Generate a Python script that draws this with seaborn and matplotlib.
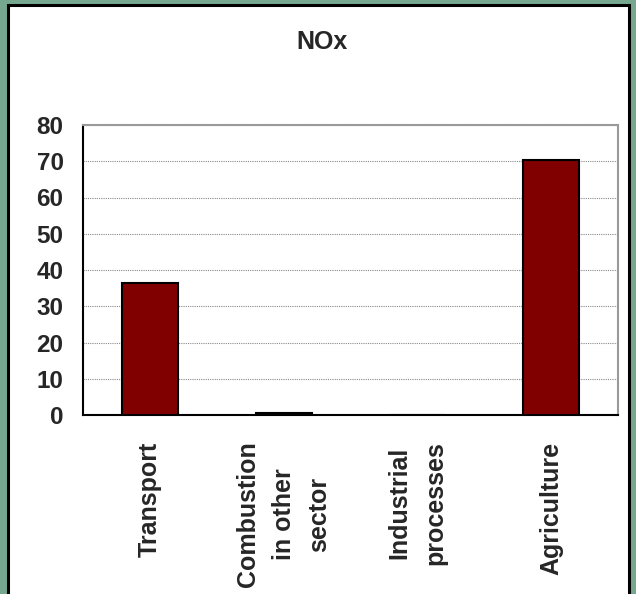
import numpy as np
import matplotlib
matplotlib.use("Agg")
import matplotlib.pyplot as plt
from matplotlib.patches import Rectangle
import seaborn as sns

# data
categories = ["Transport", "Combustion\nin other\nsector", "Industrial\nprocesses", "Agriculture"]
values = [36.5, 0.5, 0.0, 70.4]
yticks = [0, 10, 20, 30, 40, 50, 60, 70, 80]
title = "NOx"

sns.set_style("white")
plt.rcParams["font.family"] = ["Liberation Sans", "DejaVu Sans"]
plt.rcParams["font.weight"] = "bold"

fig = plt.figure(figsize=(6.36, 5.94), dpi=100, facecolor="#76a88f")

# white panel with black frame
panel = Rectangle((7.5 / 636, -0.05), (629 - 7.5) / 636, 1.05 - 5 / 594,
                  transform=fig.transFigure, facecolor="white",
                  edgecolor="black", linewidth=2.2, zorder=0)
fig.add_artist(panel)

ax = fig.add_axes([83 / 636, (594 - 415) / 594, 535 / 636, 290 / 594])
ax.set_facecolor("none")

sns.barplot(x=categories, y=values, color="#800000", saturation=1,
            edgecolor="black", linewidth=1.5, width=0.42, ax=ax, zorder=3)

ax.set_xlim(-0.5, 3.5)
ax.set_ylim(0, 80)
ax.set_yticks(yticks)
ax.set_yticklabels([str(v) for v in yticks], fontsize=17.5, fontweight="bold")

ax.set_xticks(range(len(categories)))
ax.set_xticklabels(categories, rotation=90, fontsize=18, fontweight="bold",
                   va="top", ha="center", multialignment="center",
                   linespacing=1.6)
ax.set_xticks(np.arange(-0.5, len(categories), 1), minor=True)
ax.tick_params(axis="x", which="major", length=0, pad=19)
ax.tick_params(axis="x", which="minor", length=6, width=1.5, direction="out", color="black")
ax.tick_params(axis="y", length=6, width=1.5, direction="out", color="black", pad=8)
ax.set_xlabel("")
ax.set_ylabel("")

ax.yaxis.grid(True, linestyle=(0, (1, 1)), color="#8a8a8a", linewidth=0.8, zorder=0)
ax.set_axisbelow(True)

for side in ["left", "bottom"]:
    ax.spines[side].set_color("black")
    ax.spines[side].set_linewidth(1.5)
for side in ["top", "right"]:
    ax.spines[side].set_visible(True)
    ax.spines[side].set_color("#9a9a9a")
    ax.spines[side].set_linewidth(1.5)

fig.text(322 / 636, 1 - 42 / 594, title, ha="center", va="center",
         fontsize=18, fontweight="bold")

fig.savefig("out.png", dpi=100, facecolor=fig.get_facecolor())
